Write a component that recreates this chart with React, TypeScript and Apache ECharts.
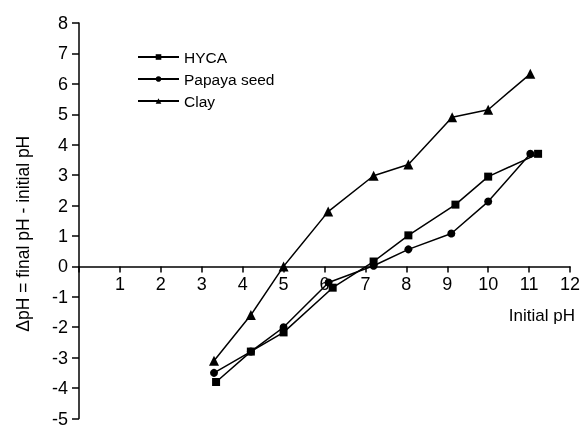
import React, { useEffect, useRef } from "react";
import * as echarts from "echarts";

const hycaX = [3.35, 4.2, 5.0, 6.2, 7.2, 8.05, 9.2, 10.0, 11.22];
const hycaY = [-3.8, -2.8, -2.17, -0.7, 0.16, 1.02, 2.03, 2.95, 3.7];
const papayaX = [3.3, 4.2, 5.0, 6.1, 7.2, 8.05, 9.1, 10.0, 11.03];
const papayaY = [-3.5, -2.8, -2.0, -0.53, 0.02, 0.56, 1.08, 2.13, 3.7];
const clayX = [3.3, 4.2, 5.0, 6.09, 7.2, 8.05, 9.12, 10.0, 11.03];
const clayY = [-3.1, -1.6, 0, 1.8, 2.98, 3.35, 4.9, 5.15, 6.33];
const seriesNames = ["HYCA", "Papaya seed", "Clay"];
const yMin = -5;
const yMax = 8;

const FONT = "'Liberation Sans', Arial, sans-serif";

function pairs(xs: number[], ys: number[]) {
  return xs.map((x, i) => [x, ys[i]]);
}

const W = 580;
const H = 425;
const GRID = { left: 79, right: 10, top: 23, bottom: 6.5 };

export default function App() {
  const ref = useRef<HTMLDivElement>(null);
  useEffect(() => {
    if (!ref.current) return;
    const chart = echarts.init(ref.current, null, { renderer: "svg" });
    const lineStyle = { color: "#000", width: 1.5 };
    const mk = (name: string, data: number[][], symbol: string, size: number) => ({
      name,
      type: "line",
      data,
      symbol,
      symbolSize: size,
      lineStyle,
      itemStyle: { color: "#000" },
      emphasis: { disabled: true },
    });
    const plotH = H - GRID.top - GRID.bottom;
    const zeroOffset = -plotH * (0 - yMin) / (yMax - yMin);
    chart.setOption({
      animation: false,
      textStyle: { fontFamily: FONT },
      grid: { ...GRID, outerBoundsMode: "none", containLabel: false },
      legend: {
        orient: "vertical",
        left: 132,
        top: 44,
        itemWidth: 41,
        itemHeight: 7,
        itemGap: 6,
        textStyle: { fontFamily: FONT, fontSize: 15.5, color: "#000" },
        data: seriesNames,
      },
      xAxis: {
        type: "value",
        min: 0,
        max: 12,
        interval: 1,
        offset: zeroOffset,
        name: "Initial pH",
        nameLocation: "end",
        nameGap: 5,
        nameTextStyle: {
          fontFamily: FONT,
          fontSize: 17,
          color: "#000",
          align: "right",
          verticalAlign: "top",
          padding: [41, 0, 0, 0],
        },
        axisLine: { onZero: false, lineStyle: { color: "#000", width: 1.5 } },
        axisTick: { length: 6, lineStyle: { color: "#000", width: 1.5 } },
        axisLabel: {
          fontFamily: FONT,
          fontSize: 18,
          color: "#000",
          margin: 9,
          formatter: (v: number) => (v === 0 ? "" : String(v)),
        },
        splitLine: { show: false },
      },
      yAxis: {
        type: "value",
        min: yMin,
        max: yMax,
        interval: 1,
        name: "ΔpH = final pH - initial pH",
        nameLocation: "middle",
        nameGap: 47,
        nameTextStyle: {
          fontFamily: FONT,
          fontSize: 17.5,
          color: "#000",
          padding: [0, 26, 0, 0],
        },
        axisLine: { show: true, lineStyle: { color: "#000", width: 1.5 } },
        axisTick: { show: true, length: 7, lineStyle: { color: "#000", width: 1.5 } },
        axisLabel: { fontFamily: FONT, fontSize: 18, lineHeight: 14, color: "#000", margin: 11 },
        splitLine: { show: false },
      },
      series: [
        mk(seriesNames[0], pairs(hycaX, hycaY), "rect", 8),
        mk(seriesNames[1], pairs(papayaX, papayaY), "circle", 8),
        mk(seriesNames[2], pairs(clayX, clayY), "triangle", 10),
      ],
    });
    return () => chart.dispose();
  }, []);
  return (
    <div
      ref={ref}
      style={{ position: "fixed", left: 0, top: 0, width: W, height: H }}
    />
  );
}
